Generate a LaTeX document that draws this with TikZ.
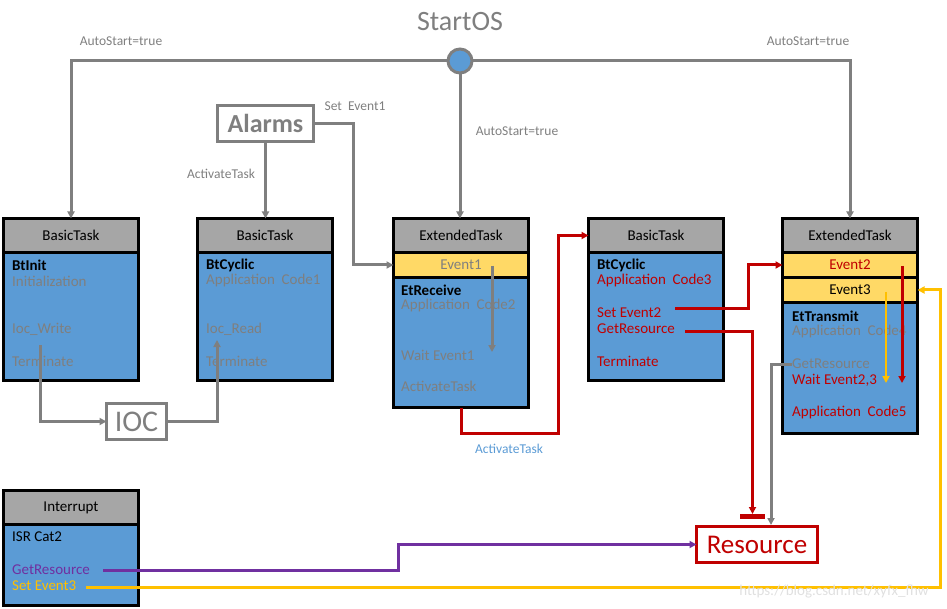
\documentclass[tikz,border=0pt]{standalone}
\usepackage{fontspec}
\setmainfont{Carlito}
\usetikzlibrary{positioning}
\usetikzlibrary{shapes}
\usetikzlibrary{arrows.meta}

\definecolor{lgray}{HTML}{7F7F7F}
\definecolor{hgray}{HTML}{A6A6A6}
\definecolor{tblue}{HTML}{5B9BD5}
\definecolor{evyel}{HTML}{FFD966}
\definecolor{dred}{HTML}{C00000}
\definecolor{lyel}{HTML}{FFC000}
\definecolor{purp}{HTML}{7030A0}

\tikzset{
  head/.style={draw=black, line width=3pt, fill=hgray, anchor=north west, outer sep=0pt,
    minimum width=135pt, minimum height=34pt, inner sep=0pt, font=\fontsize{15}{17}\selectfont},
  body/.style={draw=black, line width=3pt, fill=tblue, anchor=north west, outer sep=0pt,
    minimum width=135pt, inner sep=0pt},
  band/.style={draw=black, line width=3pt, fill=evyel, anchor=north west, outer sep=0pt,
    minimum width=135pt, minimum height=25pt, inner sep=0pt, font=\fontsize{15}{17}\selectfont},
  txt/.style={anchor=west, inner sep=0pt, font=\fontsize{15}{17}\selectfont},
  lbl/.style={inner sep=0pt, text=lgray, font=\fontsize{13.5}{15}\selectfont},
  bigbox/.style={draw=lgray, line width=3pt, fill=white, text=lgray, inner sep=0pt, outer sep=0pt},
  gline/.style={draw=lgray, line width=3pt},
  rline/.style={draw=dred, line width=3pt},
  arr/.style={-{Triangle[length=7pt,width=7pt]}},
}

\begin{document}
\begin{tikzpicture}[x=1pt, y=-1pt]
\useasboundingbox (0,0) rectangle (947,609);
%startos
\node[lbl, font=\fontsize{28}{30}\selectfont] (startos) at (460,22) {StartOS};
\node[circle, draw=lgray, fill=tblue, line width=3pt, minimum size=24pt, inner sep=0pt, outer sep=0pt] (os) at (460,61) {};
\node[lbl] (auto1) at (121,41) {AutoStart=true};
\node[lbl] (auto2) at (808,41) {AutoStart=true};
\node[lbl] (auto3) at (517,131) {AutoStart=true};

%tasks
\node[head] (bt1h) at (3.5,218.5) {BasicTask};
\node[body, minimum height=128pt] (bt1) at (3.5,252.5) {};
\node[head] (bt2h) at (197.5,218.5) {BasicTask};
\node[body, minimum height=128pt] (bt2) at (197.5,252.5) {};
\node[head] (et1h) at (393.5,218.5) {ExtendedTask};
\node[band, text=lgray] (ev1) at (393.5,252.5) {Event1};
\node[body, minimum height=130pt] (et1) at (393.5,277.5) {};
\node[head] (bt3h) at (588.5,218.5) {BasicTask};
\node[body, minimum height=128pt] (bt3) at (588.5,252.5) {};
\node[head] (et2h) at (782.5,218.5) {ExtendedTask};
\node[band, text=dred] (ev2) at (782.5,252.5) {Event2};
\node[band] (ev3) at (782.5,277.5) {Event3};
\node[body, minimum height=131pt] (et2) at (782.5,302.5) {};
\node[head] (inth) at (3.5,490.5) {Interrupt};
\node[body, minimum height=81pt] (int) at (3.5,524.5) {};

%texts
\node[txt, font=\fontsize{15}{17}\selectfont\bfseries] (t1name) at (12,265) {BtInit};
\node[txt, text=lgray] (t1init) at (12,281) {Initialization};
\node[txt, text=lgray] (t1wr) at (12,329) {Ioc\_Write};
\node[txt, text=lgray] (t1term) at (12,361) {Terminate};
\node[txt, font=\fontsize{15}{17}\selectfont\bfseries] (t2name) at (206,265) {BtCyclic};
\node[txt, text=lgray] (t2app) at (206,281) {Application\ \ Code1};
\node[txt, text=lgray] (t2rd) at (206,329) {Ioc\_Read};
\node[txt, text=lgray] (t2term) at (206,361) {Terminate};
\node[txt, font=\fontsize{15}{17}\selectfont\bfseries] (t3name) at (401,290) {EtReceive};
\node[txt, text=lgray] (t3app) at (401,306) {Application\ \ Code2};
\node[txt, text=lgray] (t3wait) at (401,355) {Wait Event1};
\node[txt, text=lgray] (t3act) at (401,386) {ActivateTask};
\node[txt, font=\fontsize{15}{17}\selectfont\bfseries] (t4name) at (597,265) {BtCyclic};
\node[txt, text=dred] (t4app) at (597,281) {Application\ \ Code3};
\node[txt, text=dred] (t4set) at (597,313) {Set Event2};
\node[txt, text=dred] (t4get) at (597,329) {GetResource};
\node[txt, text=dred] (t4term) at (597,361) {Terminate};
\node[txt, font=\fontsize{15}{17}\selectfont\bfseries] (t5name) at (792,316) {EtTransmit};
\node[txt, text=lgray] (t5app) at (792,332) {Application\ \ Code4};
\node[txt, text=lgray] (t5get) at (792,364) {GetResource};
\node[txt, text=dred] (t5wait) at (792,380) {Wait Event2,3};
\node[txt, text=dred] (t5app2) at (792,412) {Application\ \ Code5};
\node[txt] (t6name) at (12,537) {ISR Cat2};
\node[txt, text=purp] (t6get) at (12,570) {GetResource};
\node[txt, text=lyel] (t6set) at (12,586) {Set Event3};

%boxes
\node[bigbox, minimum width=96pt, minimum height=36pt, font=\fontsize{26}{28}\selectfont\bfseries] (alarms) at (265.5,123.5) {Alarms};
\node[bigbox, minimum width=60pt, minimum height=36pt, font=\fontsize{30}{32}\selectfont] (ioc) at (136.5,421.5) {IOC};
\node[bigbox, draw=dred, text=dred, minimum width=121pt, minimum height=36pt, font=\fontsize{27}{29}\selectfont] (res) at (757,544.5) {Resource};
\node[fill=dred, minimum width=25pt, minimum height=5pt, inner sep=0pt, outer sep=0pt] (lock) at (752.5,516.5) {};

%bends
\coordinate (sev1) at (353,200);
\coordinate (iocw) at (40,345);
\coordinate (iocr) at (217,340);
\coordinate (ev1in) at (492,266);
\coordinate (ev1out) at (492,352);
\coordinate (actc) at (558,433);
\coordinate (s2a) at (675,309);
\coordinate (s2b) at (748,309);
\coordinate (gra) at (685,332);
\coordinate (ev2in) at (902,266);
\coordinate (ev3in) at (886,292);
\coordinate (waitin) at (902,383);
\coordinate (waitin2) at (886,383);
\coordinate (resin) at (771,525);
\coordinate (pga) at (103,570);
\coordinate (pb) at (398,557);
\coordinate (ysa) at (86,587);
\coordinate (yb) at (940,450);

%gray
\draw[gline, arr] (os.west) -| (bt1h.north);
\draw[gline, arr] (os.east) -| (et2h.north);
\draw[gline, arr] (os.south) -- (os.south |- et1h.north);
\draw[gline, arr] (alarms.south) -- (alarms.south |- bt2h.north);
\draw[gline, arr] (alarms.east) -| (sev1) |- (ev1.west);
\draw[gline, arr] (iocw) |- (ioc.west);
\draw[gline, arr] (ioc.east) -| (iocr);
\draw[gline, arr] (ev1in) -- (ev1out);
\draw[gline, arr] (t5get.west) -| (resin);
\node[lbl] (lact) at (221,174) {ActivateTask};
\node[lbl] (lsev1) at (355,106) {Set\ \ Event1};
%red
\draw[rline, arr] (et1.south) |- (actc) |- (bt3h.west);
\draw[rline, arr] (s2a) -- (s2b) |- (ev2.west);
\draw[rline, arr] (gra) -| (lock.north);
\draw[rline, arr] (ev2in) -- (waitin);
\draw[draw=lyel, line width=2.5pt, arr] (ev3in) -- (waitin2);
\node[lbl, text=tblue] (lact2) at (509,449) {ActivateTask};
%interrupt
\draw[draw=purp, line width=3pt, arr] (pga) -| (pb) |- (res.west);
\draw[draw=lyel, line width=3pt, arr] (ysa) -| (yb) |- (ev3.east);

%watermark
\node[lbl, text=black!12, font=\fontsize{15}{17}\selectfont] (wm) at (834,592) {https://blog.csdn.net/xyfx\_fhw};
\end{tikzpicture}
\end{document}
